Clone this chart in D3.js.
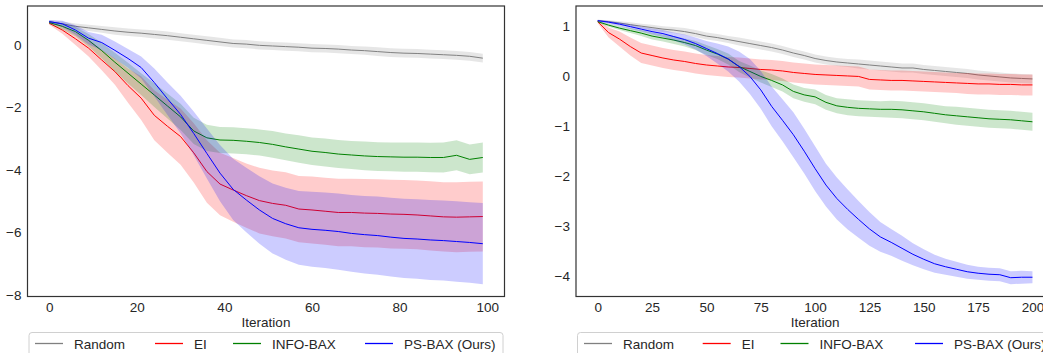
<!DOCTYPE html>
<html><head><meta charset="utf-8">
<script src="https://cdn.jsdelivr.net/npm/d3@7"></script>
<style>body{margin:0;background:#fff}svg{display:block;font-family:"Liberation Sans",Arial,sans-serif}</style>
</head><body><svg id="c" width="1043" height="353"></svg>
<script>
// ---------- data ----------
const seriesNames = ["Random", "EI", "INFO-BAX", "PS-BAX (Ours)"];
const seriesColors = ["#808080", "#ff0000", "#008000", "#0000ff"];

const leftIter = [0,3,6,9,12,15,18,21,24,27,30,33,36,39,42,45,48,51,54,57,60,63,66,69,72,75,78,81,84,87,90,93,96,99];
const randomL = [0.75,0.68,0.6,0.55,0.5,0.45,0.41,0.38,0.34,0.3,0.25,0.2,0.15,0.1,0.05,0.03,-0.01,-0.03,-0.05,-0.07,-0.1,-0.11,-0.13,-0.16,-0.18,-0.21,-0.24,-0.26,-0.27,-0.29,-0.31,-0.33,-0.36,-0.42];
const randomLsd = [0.05,0.07,0.09,0.1,0.11,0.12,0.12,0.12,0.13,0.13,0.13,0.13,0.13,0.13,0.13,0.13,0.13,0.13,0.13,0.13,0.13,0.13,0.13,0.13,0.13,0.14,0.14,0.14,0.14,0.14,0.14,0.14,0.14,0.14];
const eiL = [0.7,0.48,0.2,-0.1,-0.48,-0.85,-1.3,-1.7,-2.25,-2.6,-2.93,-3.45,-4.05,-4.45,-4.64,-4.82,-4.98,-5.07,-5.13,-5.25,-5.28,-5.32,-5.36,-5.36,-5.38,-5.39,-5.41,-5.42,-5.44,-5.47,-5.5,-5.51,-5.5,-5.49];
const eiLsd = [0.05,0.12,0.2,0.27,0.33,0.42,0.55,0.7,0.8,0.85,0.9,0.95,1.0,1.0,1.02,1.03,1.05,1.05,1.06,1.06,1.07,1.07,1.08,1.08,1.09,1.09,1.1,1.1,1.1,1.11,1.11,1.12,1.12,1.12];
const infoL = [0.72,0.6,0.43,0.15,-0.18,-0.55,-0.9,-1.25,-1.6,-1.95,-2.3,-2.75,-2.97,-3.04,-3.05,-3.08,-3.12,-3.18,-3.26,-3.33,-3.4,-3.44,-3.49,-3.52,-3.55,-3.57,-3.58,-3.59,-3.59,-3.6,-3.6,-3.53,-3.66,-3.6];
const infoLsd = [0.05,0.1,0.15,0.2,0.25,0.3,0.33,0.35,0.38,0.4,0.42,0.42,0.42,0.42,0.42,0.42,0.42,0.43,0.43,0.44,0.44,0.45,0.45,0.45,0.46,0.46,0.46,0.47,0.47,0.47,0.48,0.48,0.48,0.48];
const psL = [0.75,0.68,0.48,0.22,0.08,-0.17,-0.43,-0.72,-1.2,-1.72,-2.22,-2.83,-3.47,-4.1,-4.62,-4.96,-5.28,-5.55,-5.72,-5.85,-5.9,-5.93,-5.97,-6.03,-6.07,-6.1,-6.15,-6.19,-6.21,-6.24,-6.26,-6.29,-6.32,-6.36];
const psLsd = [0.05,0.1,0.15,0.2,0.25,0.28,0.3,0.35,0.45,0.52,0.6,0.7,0.8,0.9,0.98,1.03,1.08,1.12,1.15,1.18,1.2,1.21,1.22,1.23,1.24,1.25,1.26,1.27,1.27,1.28,1.28,1.29,1.29,1.3];

const rightIter = [0,5,10,15,20,25,30,35,40,45,50,55,60,65,70,75,80,85,90,95,100,105,110,115,120,125,130,135,140,145,150,155,160,165,170,175,180,185,190,195,200];
const randomR = [1.12,1.1,1.07,1.04,1.01,0.98,0.95,0.93,0.9,0.86,0.81,0.78,0.74,0.7,0.66,0.62,0.58,0.53,0.47,0.42,0.36,0.32,0.29,0.27,0.25,0.23,0.21,0.19,0.17,0.17,0.14,0.12,0.1,0.08,0.06,0.03,0.01,-0.01,-0.03,-0.04,-0.05];
const randomRsd = [0.02,0.03,0.04,0.05,0.05,0.06,0.06,0.06,0.07,0.07,0.07,0.07,0.07,0.08,0.08,0.08,0.08,0.08,0.08,0.08,0.08,0.08,0.08,0.08,0.09,0.09,0.09,0.09,0.09,0.09,0.09,0.09,0.09,0.09,0.09,0.09,0.09,0.09,0.09,0.09,0.09];
const eiR = [1.1,0.88,0.75,0.6,0.47,0.42,0.37,0.33,0.3,0.26,0.23,0.21,0.19,0.18,0.16,0.14,0.13,0.11,0.08,0.06,0.04,0.03,0.02,0.01,0.0,-0.06,-0.07,-0.08,-0.08,-0.09,-0.1,-0.11,-0.12,-0.13,-0.14,-0.15,-0.15,-0.16,-0.16,-0.17,-0.17];
const eiRsd = [0.03,0.1,0.15,0.18,0.2,0.2,0.2,0.2,0.2,0.2,0.2,0.2,0.2,0.2,0.2,0.2,0.2,0.2,0.2,0.2,0.2,0.2,0.2,0.2,0.2,0.2,0.2,0.2,0.2,0.2,0.2,0.2,0.2,0.2,0.21,0.21,0.21,0.21,0.21,0.21,0.21];
const infoR = [1.1,1.03,0.97,0.92,0.87,0.81,0.77,0.73,0.68,0.62,0.53,0.45,0.35,0.2,0.1,0.0,-0.08,-0.17,-0.3,-0.37,-0.41,-0.52,-0.59,-0.62,-0.64,-0.65,-0.66,-0.66,-0.67,-0.69,-0.71,-0.74,-0.77,-0.79,-0.81,-0.83,-0.85,-0.86,-0.87,-0.89,-0.91];
const infoRsd = [0.02,0.03,0.04,0.05,0.06,0.07,0.07,0.08,0.08,0.09,0.1,0.1,0.11,0.11,0.12,0.12,0.13,0.13,0.14,0.14,0.15,0.15,0.15,0.16,0.16,0.16,0.16,0.17,0.17,0.17,0.17,0.17,0.17,0.18,0.18,0.18,0.18,0.18,0.18,0.18,0.18];
const psR = [1.12,1.09,1.05,1.0,0.95,0.9,0.86,0.8,0.74,0.66,0.56,0.46,0.35,0.2,0.0,-0.27,-0.6,-0.88,-1.17,-1.5,-1.85,-2.18,-2.45,-2.67,-2.87,-3.06,-3.22,-3.33,-3.45,-3.57,-3.67,-3.76,-3.82,-3.87,-3.92,-3.95,-3.97,-3.98,-4.04,-4.03,-4.03];
const psRsd = [0.02,0.03,0.04,0.05,0.05,0.06,0.07,0.08,0.1,0.12,0.15,0.2,0.25,0.3,0.35,0.38,0.4,0.42,0.45,0.45,0.45,0.43,0.42,0.4,0.37,0.34,0.3,0.27,0.25,0.22,0.2,0.18,0.16,0.15,0.14,0.13,0.13,0.13,0.13,0.13,0.12];

const leftXTicks = [0,20,40,60,80,100];
const leftYTicks = [0,-2,-4,-6,-8];
const rightXTicks = [0,25,50,75,100,125,150,175,200];
const rightYTicks = [1,0,-1,-2,-3,-4];
const xLabel = "Iteration";

// ---------- drawing ----------
const svg = d3.select("#c");
const fmt = d3.format("d");

function panel(cfg) {
  const {x0, x1, y0, y1, xDom, yDom, iters, means, sds, xTicks, yTicks, legendOffsets} = cfg;
  const x = d3.scaleLinear().domain(xDom).range([x0, x1]);
  const y = d3.scaleLinear().domain(yDom).range([y1, y0]);
  const clipId = "clip" + Math.round(x0);
  svg.append("clipPath").attr("id", clipId).append("rect")
    .attr("x", x0).attr("y", y0).attr("width", x1 - x0).attr("height", y1 - y0);
  const g = svg.append("g").attr("clip-path", `url(#${clipId})`);
  means.forEach((m, si) => {
    const pts = iters.map((it, i) => ({it, m: m[i], s: sds[si][i]}));
    g.append("path").datum(pts)
      .attr("fill", seriesColors[si]).attr("fill-opacity", 0.2).attr("stroke", "none")
      .attr("d", d3.area().x(d => x(d.it)).y0(d => y(d.m - d.s)).y1(d => y(d.m + d.s)));
    g.append("path").datum(pts)
      .attr("fill", "none").attr("stroke", seriesColors[si]).attr("stroke-width", 1)
      .attr("d", d3.line().x(d => x(d.it)).y(d => y(d.m)));
  });
  const xa = svg.append("g").attr("transform", `translate(0,${y1})`)
    .call(d3.axisBottom(x).tickValues(xTicks).tickFormat(fmt).tickSize(0).tickPadding(6));
  const ya = svg.append("g").attr("transform", `translate(${x0},0)`)
    .call(d3.axisLeft(y).tickValues(yTicks).tickFormat(fmt).tickSize(0).tickPadding(6));
  [xa, ya].forEach(a => {
    a.select(".domain").remove();
    a.selectAll("text").attr("fill", "#262626").style("font-size", "13.5px")
      .style("font-family", '"Liberation Sans",Arial,sans-serif');
  });
  svg.append("rect").attr("x", x0).attr("y", y0).attr("width", x1 - x0).attr("height", y1 - y0)
    .attr("fill", "none").attr("stroke", "#333").attr("stroke-width", 1.2);
  svg.append("text").attr("x", (x(xDom[0]) + x(xDom[1])) / 2 - (cfg.labelShift || 0)).attr("y", y1 + 30)
    .attr("text-anchor", "middle").attr("fill", "#262626").style("font-size", "13.5px").text(xLabel);
  const lg = svg.append("g");
  lg.append("rect").attr("x", x0 + 1.5).attr("y", 332.5).attr("width", cfg.legendW).attr("height", 40)
    .attr("rx", 3).attr("fill", "#fff").attr("stroke", "#d0d0d0").attr("stroke-width", 1);
  seriesNames.forEach((n, i) => {
    const lx = x0 + legendOffsets[i];
    lg.append("path").attr("d", `M${lx},343.5H${lx + 28}`)
      .attr("fill", "none").style("stroke", seriesColors[i]).attr("stroke-width", 1.3);
    lg.append("text").attr("x", lx + 39).attr("y", 348.5).attr("fill", "#262626")
      .style("font-size", "13.5px").text(n);
  });
}

panel({x0: 27.5, x1: 504.5, y0: 6, y1: 296.5, xDom: [-4.95, 103.95], yDom: [-8.05, 1.25],
  iters: leftIter, means: [randomL, eiL, infoL, psL], sds: [randomLsd, eiLsd, infoLsd, psLsd],
  xTicks: leftXTicks, yTicks: leftYTicks, legendOffsets: [7.5, 127.5, 205.5, 337.5], legendW: 474});

panel({x0: 576, x1: 1054.2, y0: 6, y1: 296.5, xDom: [-10, 210], yDom: [-4.417, 1.414],
  iters: rightIter, means: [randomR, eiR, infoR, psR], sds: [randomRsd, eiRsd, infoRsd, psRsd],
  xTicks: rightXTicks, yTicks: rightYTicks, legendOffsets: [8, 126.7, 204.5, 339], legendW: 476});
</script></body></html>
